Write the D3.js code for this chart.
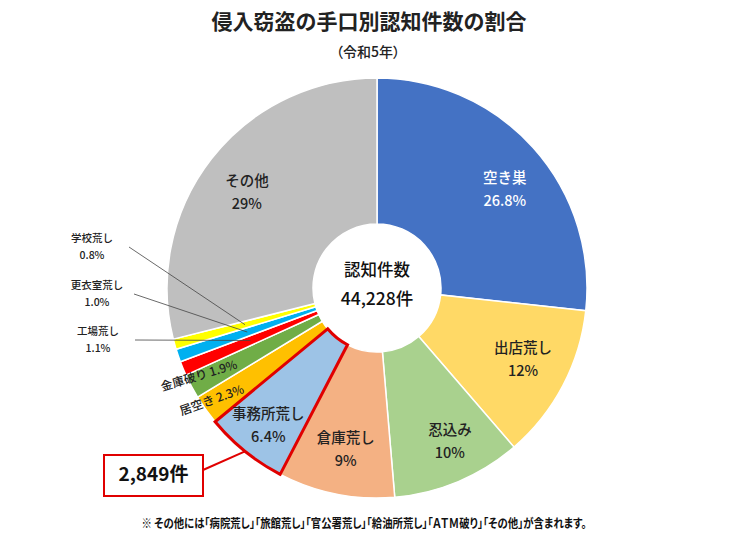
<!DOCTYPE html>
<html>
<head>
<meta charset="utf-8">
<script src="https://cdn.jsdelivr.net/npm/d3@7"></script>
<style>
  body { margin: 0; background: #fff; }
  text { font-family: "Noto Sans CJK JP", "Noto Sans", sans-serif; }
  .palt { font-feature-settings: "palt"; }
</style>
</head>
<body>
<div id="chart"></div>
<script>

var width = 748,
    height = 541;

// data
var categories = ["空き巣", "出店荒し", "忍込み", "倉庫荒し", "事務所荒し", "居空き", "金庫破り", "工場荒し", "更衣室荒し", "学校荒し", "その他"];
var values = [26.8, 12, 10, 9, 6.4, 2.3, 1.9, 1.1, 1.0, 0.8, 29];
var valueLabels = ["26.8%", "12%", "10%", "9%", "6.4%", "2.3%", "1.9%", "1.1%", "1.0%", "0.8%", "29%"];
var colors = ["#4472C4", "#FFD966", "#A9D18E", "#F4B183", "#9DC3E6", "#FFC000", "#70AD47", "#FF0000", "#00B0F0", "#FFFF00", "#BFBFBF"];
var totalLabel = ["認知件数", "44,228件"];
var highlightName = "事務所荒し";
var highlightCount = "2,849件";
var titleText = "侵入窃盗の手口別認知件数の割合";
var subtitleText = "（令和5年）";
var noteText = "※ その他には「病院荒し」「旅館荒し」「官公署荒し」「給油所荒し」「ＡＴＭ破り」「その他」が含まれます。";

// how each label is placed
var labelStyle = {
  "空き巣":   {type: "in", nudge: [5, 13], fill: "#fff"},
  "出店荒し": {type: "in", nudge: [0, -4]},
  "忍込み":   {type: "in", nudge: [9, 2]},
  "倉庫荒し": {type: "in", nudge: [1, 1]},
  "事務所荒し": {type: "in", nudge: [-5, 10]},
  "居空き":   {type: "rot", rotate: -20, nudge: [-2, -3]},
  "金庫破り": {type: "rot", rotate: -17, nudge: [-1, -5]},
  "工場荒し": {type: "out", pos: [98, 332]},
  "更衣室荒し": {type: "out", pos: [97, 286]},
  "学校荒し": {type: "out", pos: [92, 239]},
  "その他":   {type: "in", nudge: [0, 7]}
};

var data = categories.map(function(c, i) {
  return {name: c, value: values[i], label: valueLabels[i], color: colors[i]};
});

var cx = 377, cy = 288,
    outerR = 210, innerR = 64;

var svg = d3.select("#chart").append("svg")
    .attr("width", width)
    .attr("height", height);

svg.append("text")
    .attr("x", 369).attr("y", 29)
    .attr("text-anchor", "middle")
    .attr("font-size", 21).attr("font-weight", "bold")
    .attr("fill", "#222")
    .text(titleText);

svg.append("text")
    .attr("class", "palt")
    .attr("x", 368).attr("y", 57)
    .attr("text-anchor", "middle")
    .attr("font-size", 14).attr("font-weight", 500)
    .attr("fill", "#222")
    .text(subtitleText);

var pie = d3.pie().sort(null).value(function(d) { return d.value; });
var arcs = pie(data);

var arc = d3.arc().innerRadius(innerR).outerRadius(outerR);
var labelArc = d3.arc().innerRadius(165).outerRadius(165);
var rotArc = d3.arc().innerRadius(200).outerRadius(200);
var leaderArc = d3.arc().innerRadius(137).outerRadius(137);
var edgeArc = d3.arc().innerRadius(outerR).outerRadius(outerR);

var g = svg.append("g").attr("transform", "translate(" + cx + "," + cy + ")");

g.selectAll(".slice")
  .data(arcs)
  .enter().append("path")
    .attr("class", "slice")
    .attr("d", arc)
    .attr("fill", function(d) { return d.data.color; })
    .attr("stroke", "#fff")
    .attr("stroke-width", 1.5);

// red outline on the highlighted slice
var hl = arcs.filter(function(d) { return d.data.name == highlightName; })[0];
g.append("path")
    .attr("d", arc(hl))
    .attr("fill", "none")
    .attr("stroke", "#E00000")
    .attr("stroke-width", 3)
    .attr("stroke-linejoin", "miter");

// centre text
g.append("text")
    .attr("x", 0).attr("y", -16)
    .attr("text-anchor", "middle").attr("dominant-baseline", "middle")
    .attr("font-size", 16.5).attr("font-weight", 500).attr("fill", "#111")
    .text(totalLabel[0]);
g.append("text")
    .attr("x", 0).attr("y", 12)
    .attr("text-anchor", "middle").attr("dominant-baseline", "middle")
    .attr("font-size", 17.5).attr("font-weight", 500).attr("fill", "#111")
    .text(totalLabel[1]);

// labels
arcs.forEach(function(d) {
  var s = labelStyle[d.data.name];
  if (s.type == "in") {
    var c = labelArc.centroid(d);
    var x = c[0] + s.nudge[0], y = c[1] + s.nudge[1];
    g.append("text")
        .attr("x", x).attr("y", y - 11.5)
        .attr("text-anchor", "middle").attr("dominant-baseline", "middle")
        .attr("font-size", 14.5).attr("font-weight", 500).attr("fill", s.fill || "#222")
        .text(d.data.name);
    g.append("text")
        .attr("x", x).attr("y", y + 11.5)
        .attr("text-anchor", "middle").attr("dominant-baseline", "middle")
        .attr("font-size", 14.5).attr("font-weight", 500).attr("fill", s.fill || "#222")
        .text(d.data.label);
  } else if (s.type == "rot") {
    var c = rotArc.centroid(d);
    var x = c[0] + s.nudge[0], y = c[1] + s.nudge[1];
    g.append("text")
        .attr("transform", "translate(" + x + "," + y + ") rotate(" + s.rotate + ")")
        .attr("text-anchor", "middle").attr("dominant-baseline", "middle")
        .attr("font-size", 12).attr("font-weight", 500).attr("fill", "#222")
        .text(d.data.name + " " + d.data.label);
  } else {
    var p = leaderArc.centroid(d);
    var lx = s.pos[0] - cx, ly = s.pos[1] - cy;
    g.append("line")
        .attr("x1", lx + 37).attr("y1", ly + 8)
        .attr("x2", p[0]).attr("y2", p[1])
        .attr("stroke", "#444")
        .attr("stroke-width", 0.8);
    g.append("text")
        .attr("x", lx).attr("y", ly)
        .attr("text-anchor", "middle").attr("dominant-baseline", "middle")
        .attr("font-size", 10.5).attr("font-weight", 500).attr("fill", "#222")
        .text(d.data.name);
    g.append("text")
        .attr("x", lx).attr("y", ly + 17)
        .attr("text-anchor", "middle").attr("dominant-baseline", "middle")
        .attr("font-size", 10.5).attr("font-weight", 500).attr("fill", "#222")
        .text(d.data.label);
  }
});

// callout box for the highlighted slice
var edge = edgeArc.centroid(hl);
svg.append("line")
    .attr("x1", 203).attr("y1", 470)
    .attr("x2", cx + edge[0]).attr("y2", cy + edge[1])
    .attr("stroke", "#E00000")
    .attr("stroke-width", 2);
svg.append("rect")
    .attr("x", 104).attr("y", 455)
    .attr("width", 99).attr("height", 41)
    .attr("fill", "#fff")
    .attr("stroke", "#E00000")
    .attr("stroke-width", 2);
svg.append("text")
    .attr("x", 153.5).attr("y", 476)
    .attr("text-anchor", "middle").attr("dominant-baseline", "middle")
    .attr("font-size", 19).attr("font-weight", "bold").attr("fill", "#111")
    .text(highlightCount);

// footnote
svg.append("text")
    .attr("class", "palt")
    .attr("x", 364).attr("y", 528)
    .attr("text-anchor", "middle")
    .attr("font-size", 12.5).attr("font-weight", "bold").attr("fill", "#111")
    .attr("textLength", 445).attr("lengthAdjust", "spacingAndGlyphs")
    .text(noteText);

</script>
</body>
</html>
